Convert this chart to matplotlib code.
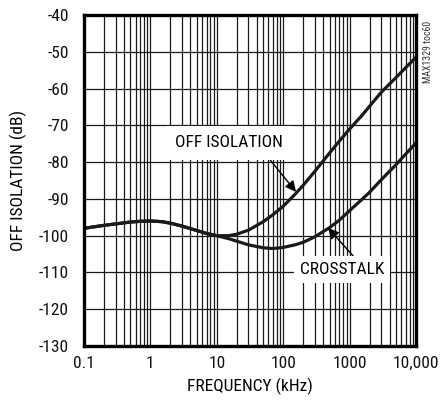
import matplotlib
matplotlib.use("Agg")
import matplotlib.pyplot as plt
from matplotlib.ticker import LogLocator, NullFormatter

plt.rcParams['font.family'] = ['Roboto Condensed', 'Noto Sans Condensed', 'Open Sans Condensed',
                               'Liberation Sans Narrow', 'Noto Sans']
plt.rcParams['font.stretch'] = 'condensed'

# ---- data ----
freq_khz = [0.1, 0.2, 0.3, 0.5, 0.7, 1, 1.5, 2, 3, 5, 7, 10, 15, 20, 30, 50, 70,
            100, 150, 200, 300, 500, 700, 1000, 1500, 2000, 3000, 5000, 7000, 10000]
off_isolation_db = [-98, -97.2, -96.8, -96.3, -96.1, -96, -96.2, -96.6, -97.4, -98.6,
                    -99.4, -100, -100, -99.6, -98.5, -96.2, -94.3, -92, -88.8, -86.3,
                    -82.5, -77.5, -74.3, -71, -67.5, -64.8, -61, -57, -54.3, -51.5]
crosstalk_db = [-98, -97.2, -96.8, -96.3, -96.1, -96, -96.2, -96.6, -97.4, -98.6,
                -99.4, -100, -100.8, -101.5, -102.5, -103.3, -103.5, -103.2, -102.5,
                -101.8, -100.3, -97.8, -95.8, -93.2, -90.3, -88.2, -84.8, -80.7,
                -77.8, -74.8]
x_ticks = [0.1, 1, 10, 100, 1000, 10000]
x_tick_labels = ["0.1", "1", "10", "100", "1000", "10,000"]
y_ticks = list(range(-130, -39, 10))

fig = plt.figure(figsize=(4.47, 4.04), dpi=100)
ax = fig.add_axes([84 / 447, 1 - 346 / 404, 332 / 447, 331 / 404])

ax.plot(freq_khz, off_isolation_db, color='#1a1a1a', lw=2.3, solid_capstyle='butt', zorder=3)
ax.plot(freq_khz, crosstalk_db, color='#1a1a1a', lw=2.3, solid_capstyle='butt', zorder=3)

ax.set_xscale('log')
ax.set_xlim(0.1, 10000)
ax.set_ylim(-130, -40)
ax.set_xticks(x_ticks)
ax.set_xticklabels(x_tick_labels)
ax.xaxis.set_minor_locator(LogLocator(base=10, subs=range(2, 10), numticks=100))
ax.xaxis.set_minor_formatter(NullFormatter())
ax.set_yticks(y_ticks)
ax.set_yticklabels([str(v) for v in y_ticks])
ax.tick_params(axis='both', which='both', length=0, labelsize=12.5, colors='#111111')
ax.tick_params(axis='y', pad=11)
ax.tick_params(axis='x', pad=7)
ax.grid(True, which='both', axis='x', color='#1a1a1a', lw=0.9)
ax.grid(True, which='major', axis='y', color='#1a1a1a', lw=0.9)
for s in ax.spines.values():
    s.set_linewidth(2.4)
    s.set_color('black')
    s.set_zorder(5)

ax.set_xlabel("FREQUENCY (kHz)", fontsize=12.5, labelpad=5)
ax.set_ylabel("OFF ISOLATION (dB)", fontsize=12.5, labelpad=8)

# labels with arrows
ax.annotate("OFF ISOLATION", xy=(156, -88.1), xytext=(15.3, -74.8),
            ha='center', va='center', fontsize=12.5, zorder=4,
            bbox=dict(boxstyle='square,pad=0.55', fc='white', ec='none'),
            arrowprops=dict(arrowstyle='-|>', color='black', lw=1.0, mutation_scale=16,
                            shrinkA=0, shrinkB=0, relpos=(0.81, 0.0)))
ax.annotate("CROSSTALK", xy=(473, -97.9), xytext=(769, -109.3),
            ha='center', va='center', fontsize=12.5, zorder=4,
            bbox=dict(boxstyle='square,pad=0.35', fc='white', ec='none'),
            arrowprops=dict(arrowstyle='-|>', color='black', lw=1.0, mutation_scale=16,
                            shrinkA=0, shrinkB=0, relpos=(0.7, 1.0)))

fig.text(428 / 447, 1 - 52 / 404, "MAX1329 toc60", rotation=90, ha='center', va='center',
         fontsize=7, color='#333333')

fig.savefig("out.png", dpi=100)
